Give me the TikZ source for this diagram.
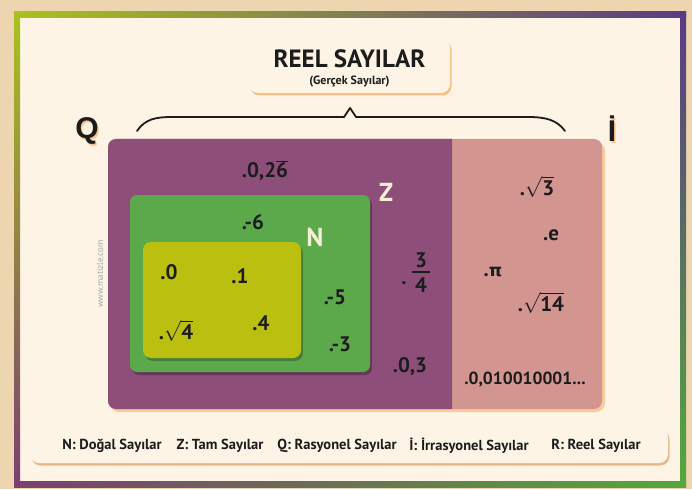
\documentclass[tikz,border=0pt]{standalone}
\usepackage{fontspec}
\setmainfont{PT Sans}
\newfontfamily\dejavu{DejaVu Sans}
\newfontfamily\arialb{Liberation Sans}
\usetikzlibrary{shadows}
\definecolor{outerbg}{HTML}{EDD5AF}
\definecolor{innerbg}{HTML}{FDF4E6}
\definecolor{qpurple}{HTML}{8D4E79}
\definecolor{ipink}{HTML}{D39590}
\definecolor{zgreen}{HTML}{5CA94B}
\definecolor{nyellow}{HTML}{BBC010}
\definecolor{labelcream}{HTML}{F6EFD4}
\definecolor{fgreen}{HTML}{A9C21E}
\definecolor{fpurple}{HTML}{5B3A85}
\definecolor{fpurple2}{HTML}{7B3F70}
\definecolor{fgreen2}{HTML}{55A83A}
\definecolor{ink}{HTML}{1C1C1C}
\newcommand{\numsize}{\fontsize{21}{23}\selectfont}
\newcommand{\rootof}[1]{$\sqrt{\mbox{\bfseries\numsize #1}}$}
\tikzset{
  num/.style={inner sep=0pt, text=ink, font=\bfseries\numsize},
  setlabel/.style={inner sep=0pt, text=labelcream, font=\bfseries\fontsize{26}{28}\selectfont},
  biglabel/.style={inner sep=0pt, text=ink, font=\arialb\bfseries\fontsize{30}{32}\selectfont},
  legendtxt/.style={inner sep=0pt, text=ink, font=\bfseries\fontsize{14.5}{16}\selectfont},
  warmshadow/.style={drop shadow={shadow xshift=1.5pt, shadow yshift=-2.5pt, fill=orange!80!brown, opacity=.45}},
}
\begin{document}
\begin{tikzpicture}[x=1pt,y=-1pt]
\useasboundingbox (0,0) rectangle (692,489);
% backgrounds
\fill[outerbg] (0,0) rectangle (692,489);
\fill[innerbg] (17,15) rectangle (683,484);
% gradient frame
\shade[left color=fgreen, right color=fpurple] (14,12) rectangle (686,18);
\shade[top color=fpurple, bottom color=fgreen2] (680,12) rectangle (686,487);
\shade[left color=fpurple2, right color=fgreen2] (14,481) rectangle (686,487);
\shade[top color=fgreen, bottom color=fpurple2] (14,12) rectangle (20,487);

% title box
\node[draw=none, fill=innerbg, rounded corners=9pt, warmshadow,
      minimum width=201pt, minimum height=55pt, inner sep=0pt] (title) at (349.5,65.5) {};
\node[inner sep=0pt, text=ink, font=\bfseries\fontsize{25}{27}\selectfont] (titletxt) at (349.5,59) {REEL SAYILAR};
\node[inner sep=0pt, text=ink, font=\bfseries\fontsize{12}{14}\selectfont] (subtxt) at (349.5,82) {(Gerçek Sayılar)};

% brace
\coordinate (bl) at (137,131);
\coordinate (br) at (565,131);
\coordinate (btip) at (350,108);
\draw[ink, line width=1.8pt, line join=round, line cap=round]
  (bl) .. controls (145,119) and (156,117) .. (172,117) -- (344,117) -- (btip) -- (356,117)
  -- (528,117) .. controls (546,117) and (557,120) .. (br);

% Q and I labels
\node[biglabel, text=orange!70, opacity=.6] at (88.5,132.5) {Q};
\node[biglabel] (Q) at (87,131) {Q};
\node[biglabel, text=orange!70, opacity=.6] at (613.5,130.5) {İ};
\node[biglabel] (I) at (612,129) {İ};

% Q / I region
\fill[orange!70!brown, opacity=.35, rounded corners=9pt] (110,142) rectangle (605,412);
\fill[ipink, rounded corners=8pt] (108,139) rectangle (602,409);
\begin{scope}
  \clip (100,130) rectangle (452,420);
  \fill[qpurple, rounded corners=8pt] (108,139) rectangle (602,409);
\end{scope}

% Z box
\fill[black, opacity=.28, rounded corners=7pt] (132,198) rectangle (372,375);
\fill[zgreen, rounded corners=7pt] (130,195) rectangle (370,372);
\node[setlabel] (Z) at (386,192) {Z};

% N box
\fill[black, opacity=.25, rounded corners=8pt] (145,245) rectangle (303,361);
\fill[nyellow, rounded corners=8pt] (143,242) rectangle (301,358);
\node[setlabel] (N) at (315,237) {N};

% numbers
\node[num] (a1) at (265,171) {.0,2$\overline{\mbox{\bfseries\numsize 6}}$};
\node[num] (a2) at (253,222) {.-6};
\node[num] (a3) at (169,272) {.0};
\node[num] (a4) at (240,276) {.1};
\node[num] (a5) at (176,331) {.\rootof{4}};
\node[num] (a6) at (261,323) {.4};
\node[num] (a7) at (335,297) {.-5};
\node[num] (a8) at (340,344) {.-3};
\node[num] (a9) at (410,367) {.0,3};
% fraction 3/4
\node[num] (f3) at (421,260) {3};
\draw[ink, line width=1.4pt] (412,272) -- (430,272);
\node[num] (f4) at (421,285) {4};
\node[num] (fdot) at (404,283) {.};

% irrational numbers
\node[num] (b1) at (537,187) {.\rootof{3}};
\node[num] (b2) at (551,235) {.e};
\node[num] (b3) at (493,272) {.{\dejavu\bfseries\fontsize{17}{19}\selectfont π}};
\node[num] (b4) at (541,303) {.\rootof{14}};
\node[num, font=\bfseries\fontsize{17.5}{19}\selectfont] (b5) at (525,380) {.0,010010001...};

% watermark
\node[rotate=90, inner sep=0pt, text=gray!70, font=\fontsize{9}{10}\selectfont] (wm) at (100,274) {www.matizle.com};

% legend
\node[fill=innerbg, rounded corners=9pt, drop shadow={shadow xshift=1.5pt, shadow yshift=-2.5pt, fill=brown!70!orange, opacity=.5},
      minimum width=638pt, minimum height=35pt, inner sep=0pt] (legend) at (349,445.5) {};
\node[legendtxt] (lN) at (112,446) {N: Doğal Sayılar};
\node[legendtxt] (lZ) at (220,446) {Z: Tam Sayılar};
\node[legendtxt] (lQ) at (337,446) {Q: Rasyonel Sayılar};
\node[legendtxt] (lI) at (469,446) {İ: İrrasyonel Sayılar};
\node[legendtxt] (lR) at (596,446) {R: Reel Sayılar};
\end{tikzpicture}
\end{document}
